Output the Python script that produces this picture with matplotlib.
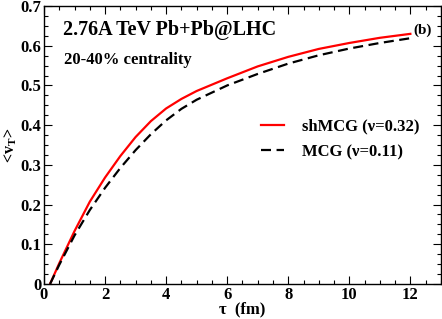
import numpy as np
import matplotlib
matplotlib.use("Agg")
import matplotlib.pyplot as plt
from matplotlib.ticker import MultipleLocator

plt.rcParams['font.family'] = ['Liberation Serif', 'DejaVu Serif']
plt.rcParams['font.weight'] = 'bold'

# proper time (fm)
tau = [0.2, 0.5, 1.0, 1.5, 2.0, 2.5, 3.0, 3.5, 4.0, 4.5, 5.0, 6.0, 7.0, 8.0, 9.0, 10.0, 11.0, 12.0]
# <v_T> curves
v_shmcg = [0.0, 0.052, 0.133, 0.207, 0.268, 0.322, 0.37, 0.41, 0.442, 0.466, 0.486, 0.518, 0.548, 0.572, 0.592, 0.607, 0.62, 0.63]
v_mcg = [0.0, 0.048, 0.122, 0.186, 0.242, 0.292, 0.337, 0.377, 0.412, 0.441, 0.464, 0.5, 0.529, 0.555, 0.576, 0.593, 0.607, 0.619]

fig = plt.figure(figsize=(4.42, 3.19), dpi=100)
ax = fig.add_axes([0.0995, 0.11, 0.898, 0.871])

ax.plot(tau, v_shmcg, color='red', lw=1.6, label='shMCG (\u03bd=0.32)')
ax.plot(tau, v_mcg, color='black', lw=1.6, ls=(0, (4.5, 2.5)), label='MCG (\u03bd=0.11)')

ax.set_xlim(0, 13)
ax.set_ylim(0, 0.7)
ax.xaxis.set_major_locator(MultipleLocator(2))
ax.xaxis.set_minor_locator(MultipleLocator(0.5))
ax.yaxis.set_major_locator(MultipleLocator(0.1))
ax.yaxis.set_minor_locator(MultipleLocator(0.025))
ax.set_xticks(range(0, 13, 2))
ax.set_xticklabels([str(v) for v in range(0, 13, 2)])
ax.set_yticks([0, 0.1, 0.2, 0.3, 0.4, 0.5, 0.6, 0.7])
ax.set_yticklabels(['0', '0.1', '0.2', '0.3', '0.4', '0.5', '0.6', '0.7'])
ax.tick_params(which='both', direction='in', top=True, right=True, labelsize=12, width=0.8, pad=2)
ax.tick_params(which='major', length=6)
ax.tick_params(which='minor', length=3)
for lab in ax.get_xticklabels() + ax.get_yticklabels():
    lab.set_fontweight('bold')
for s in ax.spines.values():
    s.set_linewidth(1.0)

ax.set_xlabel('\u03c4  (fm)', fontsize=12, fontweight='bold', labelpad=-1)
ax.set_ylabel(r'<v$_\mathregular{T}$>', fontsize=11.5, fontweight='bold', labelpad=1)

ax.text(0.048, 0.895, '2.76A TeV Pb+Pb@LHC', transform=ax.transAxes, fontsize=14.5, fontweight='bold')
ax.text(0.05, 0.79, '20-40% centrality', transform=ax.transAxes, fontsize=12, fontweight='bold')
ax.text(0.93, 0.9, '(b)', transform=ax.transAxes, fontsize=11, fontweight='bold')

ax.legend(loc='center right', bbox_to_anchor=(0.985, 0.52), frameon=False,
          handlelength=1.4, handletextpad=1.1, labelspacing=0.55,
          prop={'weight': 'bold', 'size': 12})

fig.savefig('out.png', dpi=100)
